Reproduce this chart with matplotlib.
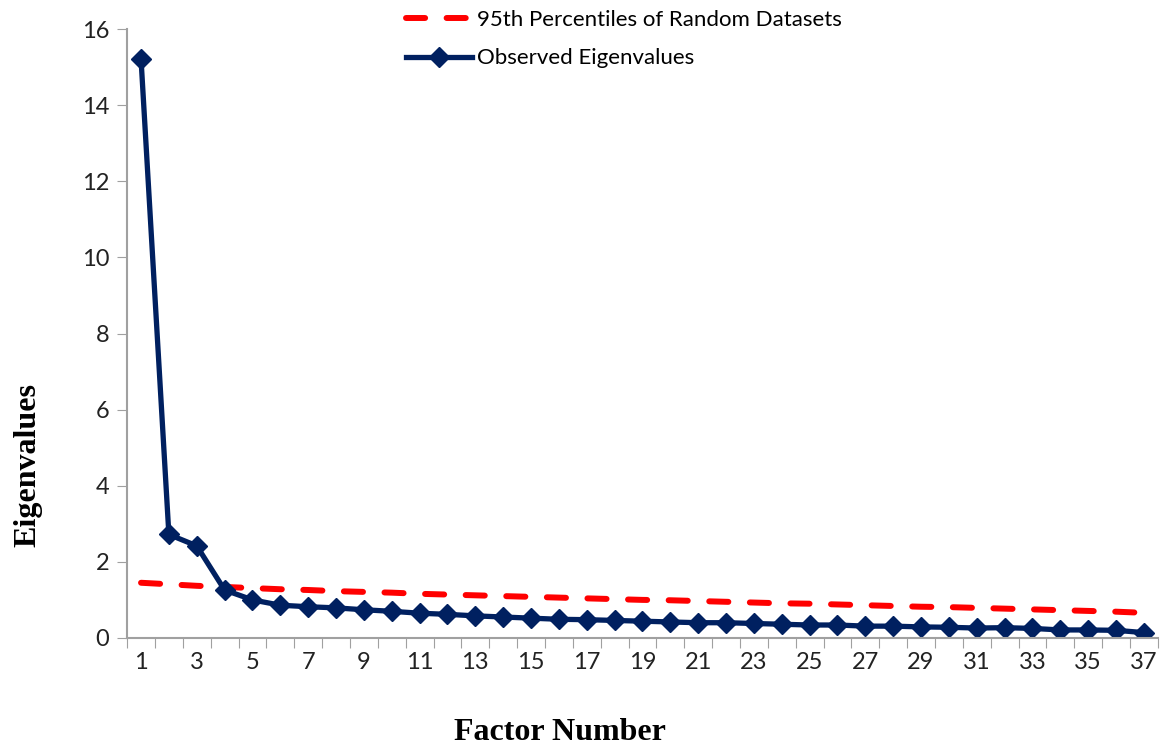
import matplotlib.pyplot as plt
import numpy as np

factors = list(range(1, 38))
observed = [15.22, 2.72, 2.42, 1.26, 1.00, 0.86, 0.82, 0.79, 0.74, 0.70,
            0.65, 0.62, 0.58, 0.55, 0.52, 0.49, 0.48, 0.46, 0.44, 0.42,
            0.40, 0.40, 0.38, 0.36, 0.34, 0.34, 0.31, 0.31, 0.29, 0.28,
            0.26, 0.27, 0.25, 0.21, 0.21, 0.20, 0.14]
random_95 = [1.45, 1.41, 1.37, 1.34, 1.31, 1.28, 1.26, 1.23, 1.21, 1.19,
             1.16, 1.14, 1.12, 1.10, 1.08, 1.06, 1.04, 1.02, 1.00, 0.99,
             0.97, 0.95, 0.93, 0.91, 0.90, 0.88, 0.86, 0.84, 0.82, 0.81,
             0.79, 0.77, 0.75, 0.73, 0.71, 0.69, 0.66]
xtick_labels = [str(i) for i in range(1, 38, 2)]

fig = plt.figure(figsize=(11.66, 7.47), dpi=100)
ax = fig.add_axes([0.109, 0.146, 0.884, 0.815])

ax.plot(factors, random_95, color='#ff0000', lw=4.3, dashes=(3.2, 3.6),
        dash_capstyle='round', label='95th Percentiles of Random Datasets')
ax.plot(factors, observed, color='#002060', lw=3.8, marker='D', markersize=10.5,
        label='Observed Eigenvalues')

ax.set_xlim(0.5, 37.5)
ax.set_ylim(0, 16)
ax.set_yticks(range(0, 17, 2))
ax.set_xticks(np.arange(0.5, 38, 1))
ax.set_xticklabels([])
ax.set_xticks(range(1, 38, 2), minor=True)
ax.set_xticklabels(xtick_labels, minor=True)
ax.tick_params(axis='x', which='minor', length=0, pad=10)
ax.tick_params(axis='x', which='major', length=7, color='#a0a0a0')
ax.tick_params(axis='y', length=7, color='#a0a0a0', pad=6)
for lab in ax.get_xticklabels(minor=True) + ax.get_yticklabels():
    lab.set_fontfamily('Lato')
    lab.set_fontsize(17)
    lab.set_color('#222222')

for s in ['top', 'right']:
    ax.spines[s].set_visible(False)
for s in ['left', 'bottom']:
    ax.spines[s].set_color('#a0a0a0')
    ax.spines[s].set_linewidth(1.5)

ax.set_xlabel('Factor Number', fontfamily='Liberation Serif', fontweight='bold', fontsize=23)
ax.set_ylabel('Eigenvalues', fontfamily='Liberation Serif', fontweight='bold', fontsize=23)
ax.xaxis.set_label_coords(0.42, -0.131)
ax.yaxis.set_label_coords(-0.082, 0.284)

leg = ax.legend(loc='upper left', bbox_to_anchor=(0.251, 1.065), frameon=False,
                prop={'family': 'Lato', 'size': 16}, handlelength=3.0,
                handletextpad=0.2, labelspacing=0.85)

fig.savefig('out.png', dpi=100)
